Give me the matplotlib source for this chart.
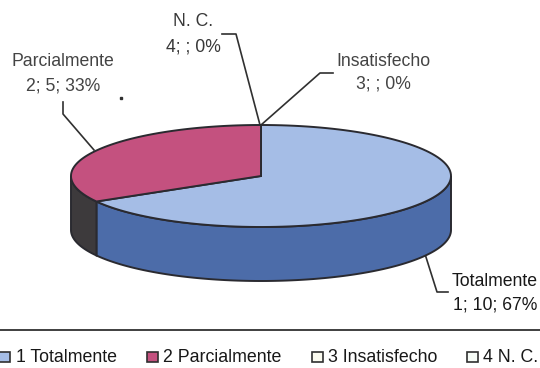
import numpy as np
import matplotlib
matplotlib.use('Agg')
import matplotlib.pyplot as plt
from matplotlib.patches import Polygon, Rectangle

plt.rcParams['font.family'] = ['Liberation Sans', 'DejaVu Sans']

# datos
categorias = ['Totalmente', 'Parcialmente', 'Insatisfecho', 'N. C.']
numeros = [1, 2, 3, 4]
valores = [10, 5, 0, 0]
etiquetas = ['1; 10; 67%', '2; 5; 33%', '3; ; 0%', '4; ; 0%']
leyenda = ['1 Totalmente', '2 Parcialmente', '3 Insatisfecho', '4 N. C.']

col_tapa = ['#a5bde6', '#c4517f', '#fbfbf0', '#f6fbf6']
col_lado = ['#4c6ca9', '#3d3a3c', '#cccc99', '#b0c0c0']
col_linea = '#2a2a30'

# geometria del pastel (pixeles de la imagen)
cx, cy, rx, ry, alto = 261, 176, 190, 51, 54

fig = plt.figure(figsize=(5.4, 3.68), dpi=100)
ax = fig.add_axes([0, 0, 1, 1])
ax.set_xlim(0, 540)
ax.set_ylim(368, 0)
ax.axis('off')


def borde(a1, a2, dy=0):
    t = np.radians(np.linspace(a1, a2, 120))
    return np.column_stack([cx + rx * np.cos(t), cy + ry * np.sin(t) + dy])


# angulos: empieza arriba y gira en sentido horario (y hacia abajo en pantalla)
total = sum(valores)
inicio = -90.0
angulos = []
for v in valores:
    fin = inicio + 360.0 * v / total
    angulos.append((inicio, fin))
    inicio = fin

# paredes laterales (solo la mitad delantera, 0 a 180 grados)
for i, (a1, a2) in enumerate(angulos):
    if valores[i] == 0:
        continue
    for desp in (0, 360, -360):
        b1, b2 = max(a1 + desp, 0), min(a2 + desp, 180)
        if b2 > b1:
            arriba = borde(b1, b2)
            abajo = borde(b2, b1, alto)
            ax.add_patch(Polygon(np.vstack([arriba, abajo]), closed=True, fc=col_lado[i],
                                 ec=col_linea, lw=1.4, zorder=2))

# tapa
for i, (a1, a2) in enumerate(angulos):
    if valores[i] == 0:
        continue
    pts = np.vstack([[cx, cy], borde(a1, a2)])
    ax.add_patch(Polygon(pts, closed=True, fc=col_tapa[i], ec=col_linea, lw=1.4, zorder=3))

# lineas guia
guias = [
    ([425, 437, 448], [254, 292, 292]),
    ([63, 63, 94], [102, 114, 150]),
    ([333, 320, 261], [73, 73, 125]),
    ([222, 236, 260], [34, 34, 125]),
]
for xs, ys in guias:
    ax.plot(xs, ys, color='#303030', lw=1.2, zorder=1)

# etiquetas
pos_etq = [(495, 281, 305), (63, 61, 86), (383, 61, 84), (193, 22, 47)]
col_txt = ['#181818', '#444444', '#444444', '#383838']
for i, (x, y1, y2) in enumerate(pos_etq):
    ax.text(x, y1, categorias[i], ha='center', va='center', fontsize=12.7, color=col_txt[i])
    ax.text(x, y2, etiquetas[i], ha='center', va='center', fontsize=12.7, color=col_txt[i])

# punto suelto del escaneo
ax.plot([121], [98], 's', ms=1.8, color='#303030')

# leyenda
ax.plot([0, 540], [330, 330], color='#303030', lw=1.3)
pos_cuadro = [-1, 147, 312, 467]
pos_txt = [16, 163, 328, 483]
for i in range(len(leyenda)):
    ax.add_patch(Rectangle((pos_cuadro[i], 352), 11, 10, fc=col_tapa[i], ec='#303030', lw=1.2))
    ax.text(pos_txt[i], 357, leyenda[i], ha='left', va='center', fontsize=12.8, color='#181818')

fig.savefig('out.png', dpi=100)
